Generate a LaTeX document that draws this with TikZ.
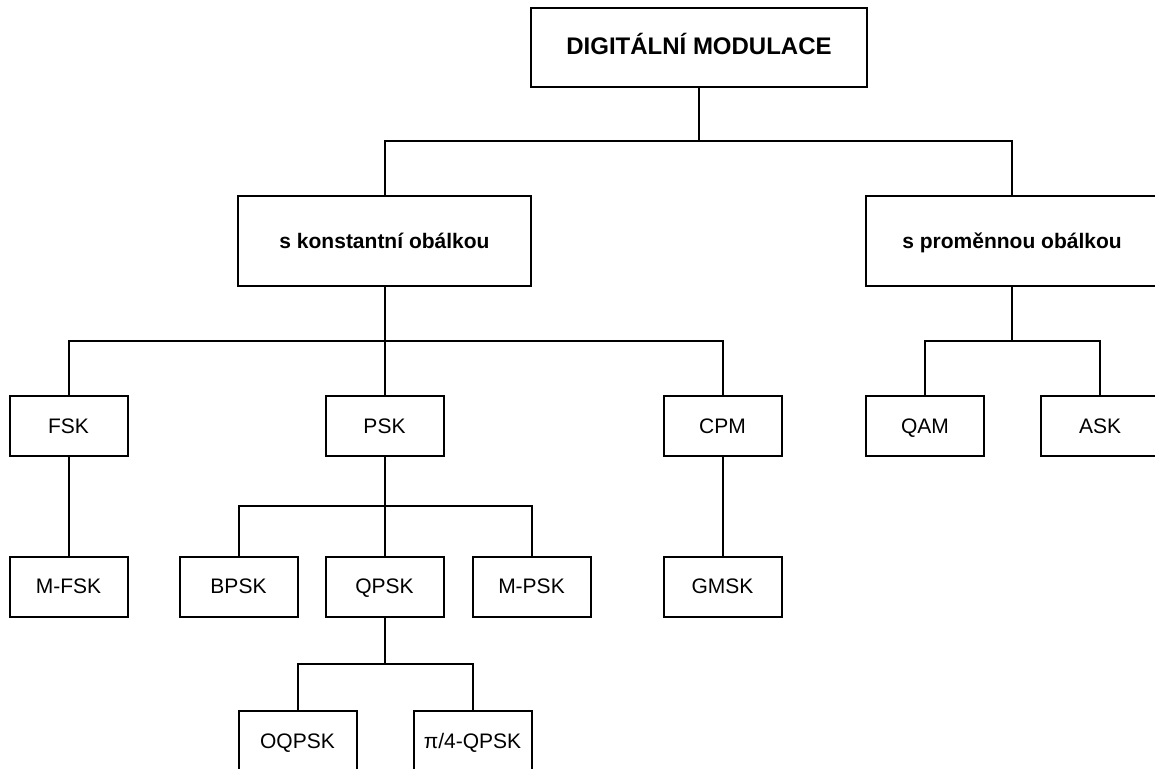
\documentclass[tikz,border=0pt]{standalone}
\usepackage{fontspec}
\setmainfont{Liberation Sans}
\usepackage{tikz}
\usetikzlibrary{calc}

\tikzset{
  root/.style={draw, line width=1pt, minimum width=168pt, minimum height=39.5pt, inner sep=0pt,
    text height=0.72em, text depth=0pt, font=\fontsize{12}{14}\selectfont\bfseries},
  grp/.style={draw, line width=1pt, minimum width=146.5pt, minimum height=45pt, inner sep=0pt,
    text height=0.72em, text depth=0pt, font=\fontsize{10.5}{12.5}\selectfont\bfseries},
  leaf/.style={draw, line width=1pt, minimum width=59pt, minimum height=30pt, inner sep=0pt,
    text height=0.72em, text depth=0pt, font=\fontsize{10.5}{12.5}\selectfont},
  bus/.style={line width=1pt, to path={(\tikztostart) |- ($(\tikztostart)!0.5!(\tikztotarget)$) -| (\tikztotarget)}}
}

\begin{document}
\begin{tikzpicture}[node distance = 80.25pt, auto]
      \useasboundingbox (0,0) rectangle (577.5pt,-384.5pt);
      \node (DM) [root] at (349.5pt,-23.75pt) {DIGITÁLNÍ MODULACE};
      \node (KONST) [grp, below of=DM, node distance=96.75pt, xshift=-157.25pt] {s konstantní obálkou};
      \node (PROM) [grp, below of=DM, node distance=96.75pt, xshift=156.5pt] {s proměnnou obálkou};
      % second level
      \node (PSK) [leaf, below of=KONST, node distance=92.5pt] {PSK};
      \node (FSK) [leaf, left of=PSK, node distance=158pt] {FSK};
      \node (CPM) [leaf, right of=PSK, node distance=169pt] {CPM};
      \node (QAM) [leaf, below of=PROM, node distance=92.5pt, xshift=-43.5pt] {QAM};
      \node (ASK) [leaf, below of=PROM, node distance=92.5pt, xshift=44pt] {ASK};
      % third level
      \node (MFSK) [leaf, below of=FSK] {M-FSK};
      \node (QPSK) [leaf, below of=PSK] {QPSK};
      \node (BPSK) [leaf, left of=QPSK, node distance=73pt] {BPSK};
      \node (MPSK) [leaf, right of=QPSK, node distance=73.5pt] {M-PSK};
      \node (GMSK) [leaf, below of=CPM] {GMSK};
      % fourth level
      \node (OQPSK) [leaf, below of=QPSK, node distance=77.25pt, xshift=-43.5pt] {OQPSK};
      \node (PIQPSK) [leaf, below of=QPSK, node distance=77.25pt, xshift=44pt] {π/4-QPSK};
      \draw [bus] (DM.south) to (KONST.north);
      \draw [bus] (DM.south) to (PROM.north);
      \draw [bus] (KONST.south) to (FSK.north);
      \draw [bus] (KONST.south) to (PSK.north);
      \draw [bus] (KONST.south) to (CPM.north);
      \draw [bus] (PROM.south) to (QAM.north);
      \draw [bus] (PROM.south) to (ASK.north);
      \draw [bus] (FSK.south) to (MFSK.north);
      \draw [bus] (PSK.south) to (BPSK.north);
      \draw [bus] (PSK.south) to (QPSK.north);
      \draw [bus] (PSK.south) to (MPSK.north);
      \draw [bus] (CPM.south) to (GMSK.north);
      \draw [bus] (QPSK.south) to (OQPSK.north);
      \draw [bus] (QPSK.south) to (PIQPSK.north);
      \end{tikzpicture}
\end{document}
